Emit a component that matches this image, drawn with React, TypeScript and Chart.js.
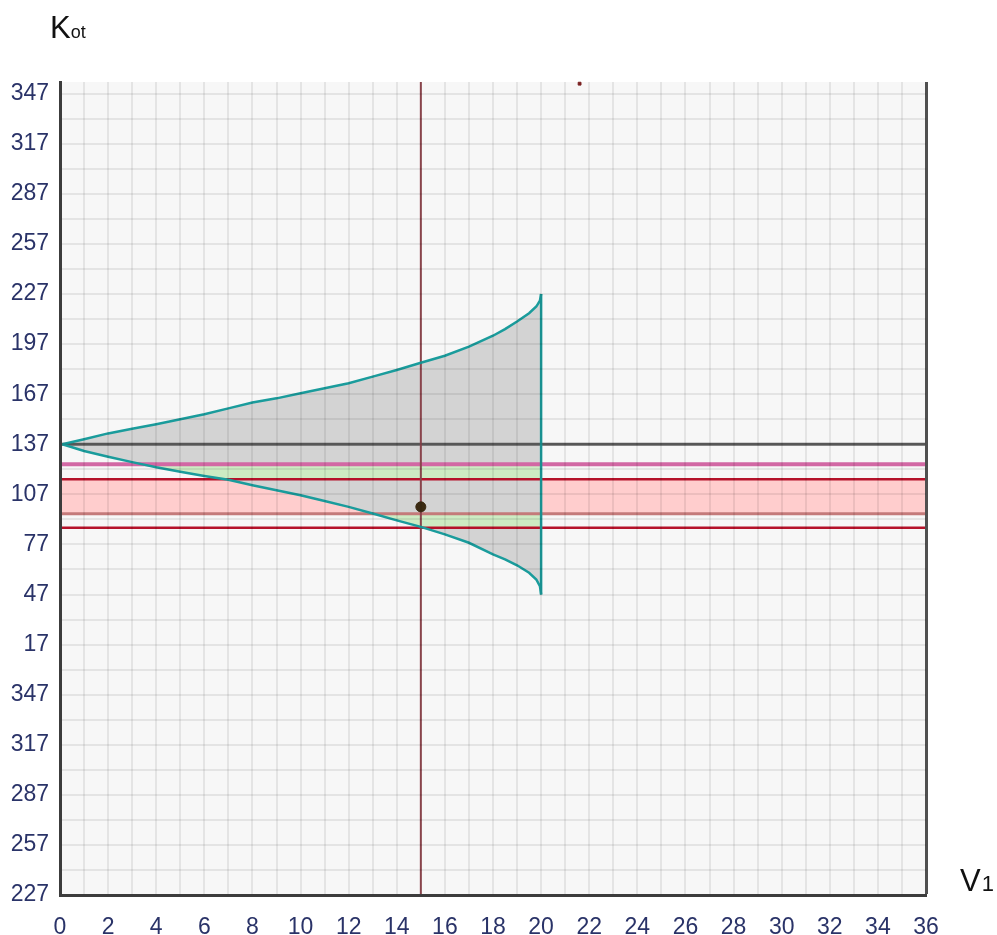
import React, { useEffect, useRef } from 'react';
import { Chart, registerables } from 'chart.js';

Chart.register(...registerables);

// ---- data ----
const shapeX = [0.1, 1, 2, 3, 4, 5, 6, 7, 8, 9, 10, 11, 12, 13, 14, 15, 16, 17, 18, 18.5, 19, 19.5, 19.8, 19.95, 20];
const shapeUpper = [137, 140, 143.5, 146.3, 149, 152, 155, 158.5, 162, 164.5, 167.5, 170.5, 173.5, 177.5, 181.5, 185.8, 190, 195.5, 202, 206, 210.5, 215.5, 219.5, 223, 227];
const shapeLower = [137, 133, 129.5, 126.3, 123.2, 120.5, 118, 115.7, 112.5, 109.5, 106.5, 103, 99.5, 95.5, 91.4, 87.5, 83, 78, 71, 68, 64.5, 60, 56, 52, 47];

const fullX = [0, 36];
const levelGray = 137;
const levelMagenta = 125;
const levelRedTop = 116;
const levelBrown = 95.4;
const levelRedBottom = 87;

const bearingX = 15;
const bearingY = [-133, 354];
const markerPoint = { x: 15, y: 99.5 };
const topMarkPoint = { x: 21.6, y: 353 };

const yMin = -133;
const yMax = 354;
const yTickLabels = ['227', '257', '287', '317', '347', '17', '47', '77', '107', '137', '167', '197', '227', '257', '287', '317', '347'];
const xTickLabels = ['0', '2', '4', '6', '8', '10', '12', '14', '16', '18', '20', '22', '24', '26', '28', '30', '32', '34', '36'];

// ---- styles ----
const TEAL = '#1a9c9c';
const PINK = '#ffcdcd';
const GREEN = '#cdebc3';
const SHAPE_GRAY = '#d3d3d3';
const TICK_COLOR = '#2a3368';
const GRID = 'rgba(0,0,0,0.075)';
const FONT = '"Liberation Sans", Arial, sans-serif';

const pts = (xs: number[], ys: number[]) => xs.map((x, i) => ({ x, y: ys[i] }));
const hline = (v: number) => fullX.map((x) => ({ x, y: v }));

const bgPlugin = {
  id: 'plotBg',
  beforeDraw(chart: any) {
    const { ctx, chartArea } = chart;
    ctx.save();
    ctx.fillStyle = '#f7f7f7';
    ctx.fillRect(chartArea.left, chartArea.top, chartArea.right - chartArea.left, chartArea.bottom - chartArea.top);
    ctx.restore();
  },
};

const greenPlugin = {
  id: 'greenBands',
  afterDatasetDraw(chart: any, args: any) {
    const ds = chart.data.datasets[args.index];
    if (ds.label !== 'shapeUpperFill') return;
    const up = chart.getDatasetMeta(args.index).data;
    const low = chart.getDatasetMeta(args.index + 1).data;
    const ctx = chart.ctx;
    const y = chart.scales.y;
    const area = chart.chartArea;
    ctx.save();
    ctx.beginPath();
    up.forEach((p: any, i: number) => (i ? ctx.lineTo(p.x, p.y) : ctx.moveTo(p.x, p.y)));
    for (let i = low.length - 1; i >= 0; i--) ctx.lineTo(low[i].x, low[i].y);
    ctx.closePath();
    ctx.clip();
    ctx.fillStyle = GREEN;
    const bands = [
      [levelMagenta, levelRedTop],
      [levelBrown, levelRedBottom],
    ];
    for (const [a, b] of bands) {
      const ya = y.getPixelForValue(a);
      const yb = y.getPixelForValue(b);
      ctx.fillRect(area.left, Math.min(ya, yb), area.right - area.left, Math.abs(yb - ya));
    }
    ctx.restore();
  },
};

const titlePlugin = {
  id: 'axisTitles',
  afterDraw(chart: any) {
    const { ctx, chartArea } = chart;
    ctx.save();
    ctx.fillStyle = '#111';
    ctx.textBaseline = 'alphabetic';
    ctx.textAlign = 'left';
    // Y title "Kot"
    ctx.font = '31px "Liberation Sans Narrow", "Liberation Sans", Arial';
    const kx = chartArea.left - 10;
    const ky = chartArea.top - 44;
    ctx.fillText('K', kx, ky);
    const kw = ctx.measureText('K').width;
    ctx.font = '18px "Liberation Sans", Arial';
    ctx.fillText('ot', kx + kw, ky);
    // X title "V1"
    ctx.font = '31px "Liberation Sans Narrow", "Liberation Sans", Arial';
    const vx = chartArea.right + 34;
    const vy = chartArea.bottom - 4;
    ctx.fillText('V', vx, vy);
    const vw = ctx.measureText('V').width;
    ctx.font = '22px "Liberation Sans", Arial';
    ctx.fillText('1', vx + vw + 1, vy);
    ctx.restore();
  },
};

export default function App() {
  const ref = useRef<HTMLCanvasElement | null>(null);

  useEffect(() => {
    document.body.style.margin = '0';
    const canvas = ref.current;
    if (!canvas) return;

    const lineDs = (label: string, data: any[], color: string, width: number, order: number, extra: any = {}) => ({
      label,
      data,
      borderColor: color,
      borderWidth: width,
      pointRadius: 0,
      fill: false,
      tension: 0,
      order,
      ...extra,
    });

    const chart = new Chart(canvas, {
      type: 'line',
      data: {
        datasets: [
          // 0,1 pink band
          lineDs('bandTop', hline(levelRedTop), 'rgba(0,0,0,0)', 0, 100, { fill: 1, backgroundColor: PINK }),
          lineDs('bandBottom', hline(levelBrown), 'rgba(0,0,0,0)', 0, 101),
          // 2,3 shape fill
          lineDs('shapeUpperFill', pts(shapeX, shapeUpper), 'rgba(0,0,0,0)', 0, 90, { fill: 3, backgroundColor: SHAPE_GRAY }),
          lineDs('shapeLowerFill', pts(shapeX, shapeLower), 'rgba(0,0,0,0)', 0, 91),
          // horizontal levels
          lineDs('gray', hline(levelGray), '#5e5e5e', 3, 50),
          lineDs('magenta', hline(levelMagenta), '#d268a4', 4, 50),
          lineDs('redTop', hline(levelRedTop), '#b5122a', 2.5, 50),
          lineDs('brown', hline(levelBrown), '#c47a7a', 3, 50),
          lineDs('redBottom', hline(levelRedBottom), '#b5122a', 2.5, 50),
          // bearing line
          lineDs('bearing', bearingY.map((y) => ({ x: bearingX, y })), '#944a52', 2, 40),
          // teal outline
          lineDs('upper', pts(shapeX, shapeUpper), TEAL, 2.5, 30),
          lineDs('lower', pts(shapeX, shapeLower), TEAL, 2.5, 30),
          lineDs('edge', [
            { x: shapeX[shapeX.length - 1], y: shapeUpper[shapeUpper.length - 1] },
            { x: shapeX[shapeX.length - 1], y: shapeLower[shapeLower.length - 1] },
          ], TEAL, 2.5, 30),
          // markers
          {
            label: 'marker',
            data: [markerPoint],
            showLine: false,
            pointRadius: 5,
            pointBackgroundColor: '#3b2a12',
            pointBorderColor: '#3b2a12',
            order: 10,
          } as any,
          {
            label: 'topMark',
            data: [topMarkPoint],
            showLine: false,
            pointRadius: 2,
            pointStyle: 'rect',
            pointBackgroundColor: '#7a2020',
            pointBorderColor: '#7a2020',
            order: 10,
            clip: false,
          } as any,
        ],
      },
      options: {
        animation: false,
        responsive: false,
        maintainAspectRatio: false,
        devicePixelRatio: 1,
        layout: { padding: { top: 82, right: 71, left: 0, bottom: 0 } },
        plugins: {
          legend: { display: false },
          tooltip: { enabled: false },
        },
        elements: { point: { radius: 0 }, line: { tension: 0 } },
        scales: {
          x: {
            type: 'linear',
            min: 0,
            max: 36,
            afterFit: (s: any) => {
              s.height = 40;
            },
            ticks: {
              stepSize: 1,
              autoSkip: false,
              maxRotation: 0,
              padding: 19,
              color: TICK_COLOR,
              font: { family: FONT, size: 23 },
              callback: (v: any) => (Number(v) % 2 === 0 ? xTickLabels[Number(v) / 2] : ''),
            },
            grid: {
              z: 1,
              drawTicks: false,
              color: (c: any) => (c.tick && c.tick.value === 36 ? '#505050' : GRID),
              lineWidth: (c: any) => (c.tick && c.tick.value === 36 ? 3 : 2),
            },
            border: { display: true, color: '#3c3c3c', width: 3, z: 2 },
          },
          y: {
            type: 'linear',
            min: yMin,
            max: yMax,
            afterFit: (s: any) => {
              s.width = 60;
            },
            afterBuildTicks: (s: any) => {
              const t: any[] = [];
              for (let v = yMin; v <= 347; v += 15) t.push({ value: v });
              s.ticks = t;
            },
            ticks: {
              autoSkip: false,
              padding: 11,
              color: TICK_COLOR,
              font: { family: FONT, size: 23 },
              callback: (v: any) => {
                const k = (Number(v) - yMin) / 30;
                return Number.isInteger(k) ? yTickLabels[k] : '';
              },
            },
            grid: {
              z: 1,
              drawTicks: false,
              color: GRID,
              lineWidth: 2,
            },
            border: { display: true, color: '#3c3c3c', width: 3, z: 2 },
          },
        },
      } as any,
      plugins: [bgPlugin, greenPlugin, titlePlugin],
    });

    return () => chart.destroy();
  }, []);

  return (
    <div style={{ width: 997, height: 935, position: 'relative' }}>
      <canvas ref={ref} width={997} height={935} style={{ display: 'block', width: 997, height: 935 }} />
    </div>
  );
}
